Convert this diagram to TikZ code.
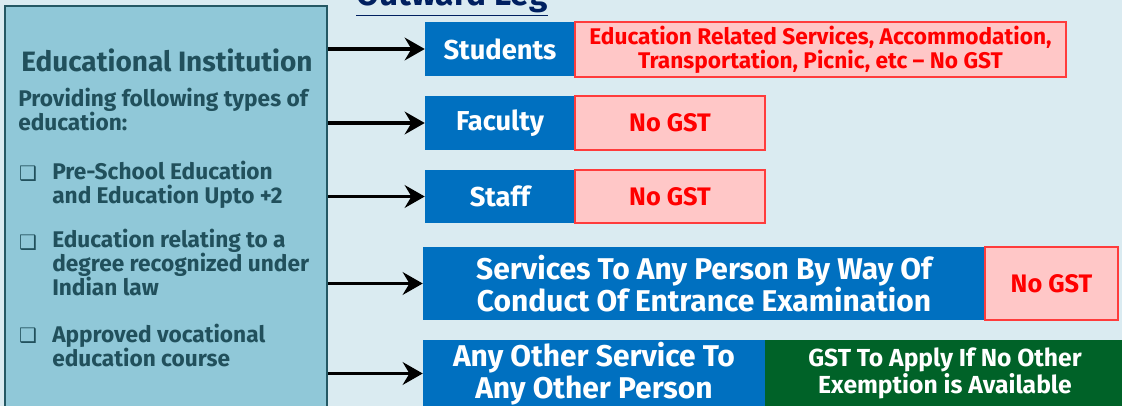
\documentclass[tikz,border=0pt]{standalone}
\usepackage{fontspec}
\setmainfont{Fira Sans}
\newfontfamily\boxfont{DejaVu Sans}
\usetikzlibrary{arrows.meta,positioning}

% colours
\definecolor{pagebg}{RGB}{218,235,241}
\definecolor{instfill}{RGB}{144,200,216}
\definecolor{instline}{RGB}{36,88,100}
\definecolor{insttext}{RGB}{33,80,92}
\definecolor{headblue}{RGB}{0,112,192}
\definecolor{nofill}{RGB}{255,199,199}
\definecolor{noline}{RGB}{255,60,60}
\definecolor{gstgreen}{RGB}{0,98,40}
\definecolor{navy}{RGB}{0,32,96}

\tikzset{
  instbox/.style={draw=instline, line width=1.6pt, fill=instfill, inner sep=0pt},
  insttxt/.style={text=insttext, font=\bfseries\fontsize{17}{18}\selectfont, align=left, inner sep=0pt},
  tick/.style={text=insttext, font=\boxfont\fontsize{15}{15}\selectfont, inner sep=0pt},
  head/.style={fill=headblue, text=white, align=center, inner sep=0pt,
    font=\bfseries\fontsize{20.5}{23}\selectfont},
  nogst/.style={fill=nofill, draw=noline, line width=0.8pt, text=red, align=center, inner sep=0pt,
    font=\bfseries\fontsize{19}{18}\selectfont},
  gstbox/.style={fill=gstgreen, text=white, align=center, inner sep=0pt,
    font=\bfseries\fontsize{18.5}{20.5}\selectfont},
  conn/.style={-{Stealth[length=15pt,width=17pt,inset=5pt]}, line width=2.4pt, black}
}

\begin{document}
\begin{tikzpicture}[x=0.75pt, y=-0.75pt] % one unit = one pixel, y downwards
    \useasboundingbox (0,0) rectangle (1122,406);
    \fill[pagebg] (0,0) rectangle (1122,406);

    % heading, cut by the top edge
    \node[text=navy, font=\bfseries\fontsize{25}{25}\selectfont, anchor=base, inner sep=0pt]
        (leg) at (452,6) {\underline{Outward Leg}};

    % institution panel on the left (base anchor = last line)
    \node[instbox, minimum width=241.5pt, minimum height=310.5pt] (inst) at (166,213) {};
    \node[insttxt, font=\bfseries\fontsize{21}{22}\selectfont, anchor=base] (insttitle) at (167,72) {Educational Institution};
    \node[insttxt, anchor=base west] (provide) at (18,131) {Providing following types of\\education:};

    \node[insttxt, anchor=base west] (pre) at (52,204) {Pre-School Education\\and Education Upto +2};
    \node[insttxt, anchor=base west] (degree) at (52,296) {Education relating to a\\degree recognized under\\Indian law};
    \node[insttxt, anchor=base west] (voc) at (52,366) {Approved vocational\\education course};
    \foreach \y/\name in {174/tpre, 243/tdegree, 336/tvoc}
        \node[tick] (\name) at (28,\y) {❑};

    % recipients
    \node[head, minimum width=112.5pt, minimum height=40.5pt] (stu) at (500,49) {Students};
    \node[head, minimum width=112.5pt, minimum height=40.5pt] (fac) at (500,123) {Faculty};
    \node[head, minimum width=112.5pt, minimum height=39.75pt] (staff) at (500,196.5) {Staff};
    \node[head, minimum width=421.5pt, minimum height=54.75pt, font=\bfseries\fontsize{22.5}{23.5}\selectfont]
        (exam) at (704,283.5) {Services To Any Person By Way Of\\Conduct Of Entrance Examination};
    \node[head, minimum width=256.5pt, minimum height=50.25pt, font=\bfseries\fontsize{22.5}{23.5}\selectfont]
        (other) at (594,373.5) {Any Other Service To\\Any Other Person};

    % tax treatment
    \node[nogst, minimum width=368.25pt, minimum height=41.25pt, font=\bfseries\fontsize{17}{18}\selectfont]
        (stutax) at (820.5,49.5) {Education Related Services, Accommodation,\\Transportation, Picnic, etc -- No GST};
    \node[nogst, minimum width=142.5pt, minimum height=40.5pt] (factax) at (670,123) {No GST};
    \node[nogst, minimum width=142.5pt, minimum height=39.75pt] (stafftax) at (670,196.5) {No GST};
    \node[nogst, minimum width=99.75pt, minimum height=54.75pt] (examtax) at (1051.5,283.5) {No GST};
    \node[gstbox, minimum width=270pt, minimum height=50.25pt] (othertax) at (945,373.5)
        {GST To Apply If No Other\\Exemption is Available};

    % arrows out of the panel
    \foreach \to in {stu, fac, staff, exam, other}
        \draw[conn] (inst.east |- \to.west) -- (\to.west);
\end{tikzpicture}
\end{document}
